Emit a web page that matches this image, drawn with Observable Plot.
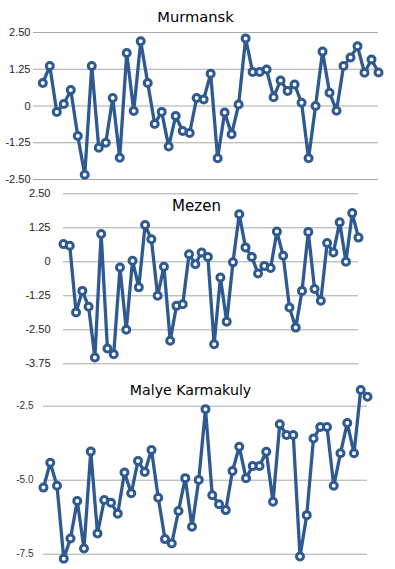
<!DOCTYPE html>
<html><head><meta charset="utf-8">
<script src="https://cdn.jsdelivr.net/npm/d3@7"></script>
<script src="https://cdn.jsdelivr.net/npm/@observablehq/plot@0.6"></script>
<style>
body{margin:0;background:#fff}
#wrap{position:relative;width:395px;height:569px;overflow:hidden;background:#fff}
.panel{position:absolute;left:0}
.title{position:absolute;font-family:"DejaVu Sans";color:#000;white-space:nowrap;transform:translateX(-50%);line-height:1}
</style></head><body><div id="wrap"></div>
<script>
const titles = ["Murmansk", "Mezen", "Malye Karmakuly"];

const murmansk = [0.78,1.36,-0.2,0.07,0.54,-1.02,-2.34,1.36,-1.42,-1.25,
  0.27,-1.76,1.8,-0.17,2.2,0.78,-0.61,-0.2,-1.38,-0.34,
  -0.85,-0.92,0.27,0.22,1.1,-1.78,-0.22,-0.96,0.05,2.3,
  1.16,1.16,1.24,0.3,0.87,0.51,0.73,0.11,-1.78,0.0,
  1.85,0.45,-0.16,1.36,1.65,2.03,1.13,1.58,1.14];

const mezen = [0.65,0.59,-1.86,-1.07,-1.65,-3.52,1.02,-3.19,-3.4,-0.21,
  -2.5,0.04,-0.94,1.35,0.83,-1.25,-0.18,-2.9,-1.62,-1.56,
  0.28,-0.09,0.34,0.18,-3.03,-0.58,-2.2,-0.02,1.75,0.53,
  0.18,-0.43,-0.15,-0.23,1.11,0.22,-1.68,-2.42,-1.07,1.1,
  -1.0,-1.43,0.69,0.34,1.45,0.0,1.79,0.89];

const karmakuly = [-5.25,-4.41,-5.19,-7.65,-6.97,-5.7,-7.31,-4.03,-6.8,-5.67,
  -5.76,-6.13,-4.74,-5.44,-4.35,-4.72,-3.98,-5.59,-6.99,-7.14,
  -6.04,-4.93,-6.57,-4.99,-2.6,-5.51,-5.81,-6.01,-4.69,-3.87,
  -4.93,-4.52,-4.52,-4.04,-5.73,-3.11,-3.47,-3.47,-7.58,-6.18,
  -3.59,-3.2,-3.2,-5.19,-4.09,-3.07,-4.09,-1.95,-2.18];

const murmanskTicks = [2.5, 1.25, 0, -1.25, -2.5];
const murmanskLabels = ["2.50", "1.25", "0", "-1.25", "-2.50"];
const mezenTicks = [2.5, 1.25, 0, -1.25, -2.5, -3.75];
const mezenLabels = ["2.50", "1.25", "0", "-1.25", "-2.50", "-3.75"];
const karmakulyTicks = [-2.5, -5.0, -7.5];
const karmakulyLabels = ["-2.5", "-5.0", "-7.5"];

const color = "#2e5a91";

const panels = [
  {title: titles[0], values: murmansk, ticks: murmanskTicks, labels: murmanskLabels,
   top: 0, height: 190, mt: 32, mb: 11, ml: 33, mr: 17, xdom: [-1.33, 48], yfrom: -2.5, yto: 2.5,
   pad: 3, fs: 11, tfill: "#222",
   tTop: 10.3, tX: 195.5, tSize: 14.7},
  {title: titles[1], values: mezen, ticks: mezenTicks, labels: mezenLabels,
   top: 180, height: 195, mt: 13.3, mb: 11.7, ml: 63, mr: 37, xdom: [0, 47], yfrom: -3.75, yto: 2.5,
   pad: 13, fs: 11, tfill: "#222",
   tTop: 198.8, tX: 196.5, tSize: 15},
  {title: titles[2], values: karmakuly, ticks: karmakulyTicks, labels: karmakulyLabels,
   top: 375, height: 194, mt: 30.7, mb: 15.3, ml: 43, mr: 28, xdom: [0, 48], yfrom: -7.5, yto: -2.5,
   pad: 10, fs: 10, tfill: "#333",
   tTop: 383, tX: 190.5, tSize: 14.2}
];

const wrap = document.getElementById("wrap");

for (const p of panels) {
  const data = p.values.map((v, i) => ({i, v}));
  const chart = Plot.plot({
    width: 395,
    height: p.height,
    marginTop: p.mt,
    marginBottom: p.mb,
    marginLeft: p.ml,
    marginRight: p.mr,
    style: {background: "transparent", overflow: "visible", fontFamily: "Liberation Sans, Arial, sans-serif", fontSize: p.fs + "px", color: p.tfill},
    x: {domain: p.xdom, axis: null},
    y: {domain: [p.yfrom, p.yto], label: null},
    marks: [
      Plot.gridY(p.ticks, {stroke: "#a9a9a9", strokeOpacity: 1, strokeWidth: 1}),
      Plot.axisY(p.ticks, {tickSize: 0, tickPadding: p.pad, fill: p.tfill, label: null,
        tickFormat: d => p.labels[p.ticks.indexOf(d)]}),
      Plot.line(data, {x: "i", y: "v", stroke: color, strokeWidth: 3.3, strokeLinejoin: "round"}),
      Plot.dot(data, {x: "i", y: "v", r: 3.5, fill: "white", stroke: color, strokeWidth: 3})
    ]
  });
  chart.classList.add("panel");
  chart.style.top = p.top + "px";
  wrap.appendChild(chart);
  const t = document.createElement("div");
  t.className = "title";
  t.textContent = p.title;
  t.style.top = p.tTop + "px";
  t.style.left = p.tX + "px";
  t.style.fontSize = p.tSize + "px";
  wrap.appendChild(t);
}
</script>
</body></html>
